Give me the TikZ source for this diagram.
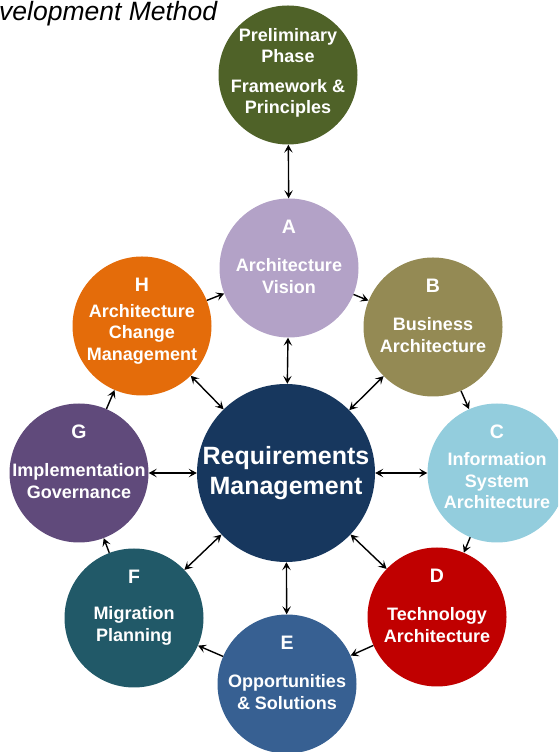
\documentclass[tikz,border=0pt]{standalone}
\usepackage{fontspec}
\setmainfont{Liberation Sans}
\usetikzlibrary{arrows.meta, positioning}

% Farben der Phasen
\definecolor{FarbeVorb}{HTML}{4F6228}
\definecolor{FarbeA}{HTML}{B3A2C7}
\definecolor{FarbeB}{HTML}{948A54}
\definecolor{FarbeC}{HTML}{93CDDD}
\definecolor{FarbeD}{HTML}{C00000}
\definecolor{FarbeE}{HTML}{376092}
\definecolor{FarbeF}{HTML}{215968}
\definecolor{FarbeG}{HTML}{604A7B}
\definecolor{FarbeH}{HTML}{E46C0A}
\definecolor{FarbeAnf}{HTML}{17375E}

\begin{document}
\begin{tikzpicture}
			[
			x=1pt, y=1pt,
			Phase/.style={circle, minimum size=139pt, inner sep=0pt},								%Kreis einer Phase
			Buchstabe/.style={text=white, font=\bfseries\fontsize{19.5}{19.5}\selectfont},			%Phasenbuchstabe
			PhaseText/.style={text=white, align=center, font=\bfseries\fontsize{18}{21.5}\selectfont},	%Phasenname
			ZyklusPfeil/.style={-{Stealth[length=8pt, width=8.5pt, inset=3.5pt]}, line width=1.4pt},	%Pfeil im Zyklus
			DoppelPfeil/.style={{Stealth[length=8pt, width=8.5pt, inset=3.5pt]}-{Stealth[length=8pt, width=8.5pt, inset=3.5pt]}, line width=1.4pt}	%Pfeil zur Mitte
			]

			%% Abstaende der Beschriftung vom Kreismittelpunkt %%
			\def\BuchstabeUp{41pt};	%Buchstabe ueber der Mitte
			\def\TextDown{-8pt};	%Textblock unter der Mitte

			% Bildrahmen
			\useasboundingbox (0,0) rectangle (558,752);
			\clip (0,0) rectangle (558,752);

			% Titel (links abgeschnitten)
			\node[anchor=base west, inner sep=0pt, font=\itshape\fontsize{26.5}{26.5}\selectfont] (Titel) at (-1,731) {velopment Method};

			%%%%%%%%%%%%%%%%%%%%%%%%%% Kreise %%%%%%%%%%%%%%%%%%%%%%%%%%%%%%%
			\node[Phase, fill=FarbeVorb] (Vorb) at (288,677) {};
			\node[Phase, fill=FarbeA] (A) at (289,484) {};
			\node[Phase, fill=FarbeB] (B) at (433,425) {};
			\node[Phase, fill=FarbeC] (C) at (497,279) {};
			\node[Phase, fill=FarbeD] (D) at (437,135) {};
			\node[Phase, fill=FarbeE] (E) at (287,68) {};
			\node[Phase, fill=FarbeF] (F) at (134,134) {};
			\node[Phase, fill=FarbeG] (G) at (79,279) {};
			\node[Phase, fill=FarbeH] (H) at (142,426) {};
			\node[Phase, minimum size=178pt, fill=FarbeAnf, text=white, align=center,
				font=\bfseries\fontsize{25}{30}\selectfont] (Anf) at (286,279) {Requirements\\Management};

			% Beschriftung der Kreise
			\node[PhaseText] (VorbText) at ([yshift=2pt]Vorb.center) {Preliminary\\Phase\\[8pt]Framework \&\\Principles};
			\node[Buchstabe] (ABuch) at ([yshift=\BuchstabeUp]A.center) {A};
			\node[PhaseText] (AText) at ([yshift=\TextDown]A.center) {Architecture\\Vision};
			\node[Buchstabe] (BBuch) at ([yshift=\BuchstabeUp]B.center) {B};
			\node[PhaseText] (BText) at ([yshift=\TextDown]B.center) {Business\\Architecture};
			\node[Buchstabe] (CBuch) at ([yshift=\BuchstabeUp]C.center) {C};
			\node[PhaseText] (CText) at ([yshift=\TextDown]C.center) {Information\\System\\Architecture};
			\node[Buchstabe] (DBuch) at ([yshift=\BuchstabeUp]D.center) {D};
			\node[PhaseText] (DText) at ([yshift=\TextDown]D.center) {Technology\\Architecture};
			\node[Buchstabe] (EBuch) at ([yshift=\BuchstabeUp]E.center) {E};
			\node[PhaseText] (EText) at ([yshift=\TextDown]E.center) {Opportunities\\\& Solutions};
			\node[Buchstabe] (FBuch) at ([yshift=\BuchstabeUp]F.center) {F};
			\node[PhaseText] (FText) at ([yshift=\TextDown]F.center) {Migration\\Planning};
			\node[Buchstabe] (GBuch) at ([yshift=\BuchstabeUp]G.center) {G};
			\node[PhaseText] (GText) at ([yshift=\TextDown]G.center) {Implementation\\Governance};
			\node[Buchstabe] (HBuch) at ([yshift=\BuchstabeUp]H.center) {H};
			\node[PhaseText] (HText) at ([yshift=\TextDown]H.center) {Architecture\\Change\\Management};

			%%%%%%%%%%%%%%%%%%%%%%%%%% Pfeile %%%%%%%%%%%%%%%%%%%%%%%%%%%%%%%
			% Zyklus A bis H
			\draw[ZyklusPfeil] (A) -- (B);
			\draw[ZyklusPfeil] (B) -- (C);
			\draw[ZyklusPfeil] (C) -- (D);
			\draw[ZyklusPfeil] (D) -- (E);
			\draw[ZyklusPfeil] (E) -- (F);
			\draw[ZyklusPfeil] (F) -- (G);
			\draw[ZyklusPfeil] (G) -- (H);
			\draw[ZyklusPfeil] (H) -- (A);
			% Verbindungen zur Mitte und zur Vorbereitung
			\draw[DoppelPfeil] (Vorb) -- (A);
			\draw[DoppelPfeil] (Anf) -- (A);
			\draw[DoppelPfeil] (Anf) -- (B);
			\draw[DoppelPfeil] (Anf) -- (C);
			\draw[DoppelPfeil] (Anf) -- (D);
			\draw[DoppelPfeil] (Anf) -- (E);
			\draw[DoppelPfeil] (Anf) -- (F);
			\draw[DoppelPfeil] (Anf) -- (G);
			\draw[DoppelPfeil] (Anf) -- (H);
		\end{tikzpicture}
\end{document}
